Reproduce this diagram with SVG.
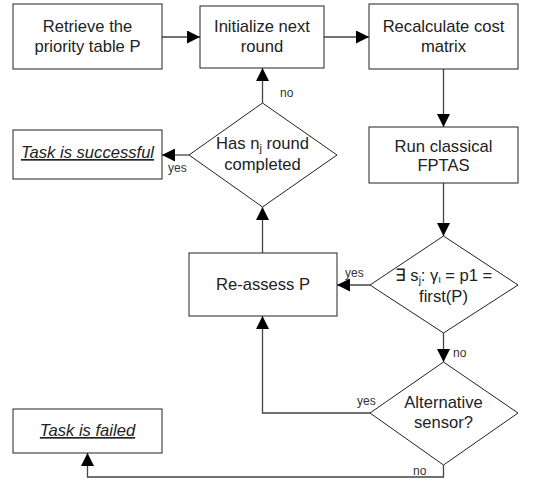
<svg xmlns="http://www.w3.org/2000/svg" width="545" height="481" viewBox="0 0 545 481">
<style>
.box{fill:#fff;stroke:#222;stroke-width:1}
.t{font-family:"Liberation Sans",Arial,sans-serif;font-size:16.6px;fill:#222;text-anchor:middle}
.it{font-style:italic;text-decoration:underline}
.lbl{font-family:"Liberation Sans",Arial,sans-serif;font-size:12px;fill:#333}
.c{fill:none;stroke:#444;stroke-width:1.3}
</style>
<defs>
<marker id="ah" markerUnits="userSpaceOnUse" markerWidth="13" markerHeight="13" refX="13" refY="6.5" orient="auto">
<path d="M0,0 L13,6.5 L0,13 z" fill="#000"/>
</marker>
</defs>
<rect width="545" height="481" fill="#fff"/>
<g id="connectors">
<line class="c" x1="162" y1="37" x2="200" y2="37" marker-end="url(#ah)"/>
<line class="c" x1="324" y1="37" x2="369" y2="37" marker-end="url(#ah)"/>
<line class="c" x1="443.5" y1="69" x2="443.5" y2="127" marker-end="url(#ah)"/>
<line class="c" x1="443.5" y1="183" x2="443.5" y2="236" marker-end="url(#ah)"/>
<line class="c" x1="370" y1="285" x2="337" y2="285" marker-end="url(#ah)"/>
<line class="c" x1="262.5" y1="253" x2="262.5" y2="207" marker-end="url(#ah)"/>
<line class="c" x1="262.5" y1="103" x2="262.5" y2="68" marker-end="url(#ah)"/>
<line class="c" x1="189" y1="155" x2="162" y2="155" marker-end="url(#ah)"/>
<line class="c" x1="443.5" y1="333" x2="443.5" y2="362" marker-end="url(#ah)"/>
<polyline class="c" points="370,413 262.5,413 262.5,316" marker-end="url(#ah)"/>
<polyline class="c" points="443.5,465 443.5,477 87.5,477 87.5,453" marker-end="url(#ah)"/>
<text class="lbl" x="280" y="97">no</text>
<text class="lbl" x="168" y="172">yes</text>
<text class="lbl" x="345" y="277">yes</text>
<text class="lbl" x="453" y="357">no</text>
<text class="lbl" x="357" y="405">yes</text>
<text class="lbl" x="413" y="475">no</text>
</g>
<g id="retrieve">
<rect class="box" x="13" y="4" width="149" height="65"/>
<text class="t" x="87.5" y="32">Retrieve the</text>
<text class="t" x="87.5" y="52">priority table P</text>
</g>
<g id="initialize">
<rect class="box" x="200" y="6" width="124" height="62"/>
<text class="t" x="262" y="32">Initialize next</text>
<text class="t" x="262" y="52">round</text>
</g>
<g id="recalculate">
<rect class="box" x="369" y="4" width="149" height="65"/>
<text class="t" x="443.5" y="32">Recalculate cost</text>
<text class="t" x="443.5" y="52">matrix</text>
</g>
<g id="success">
<rect class="box" x="13" y="130" width="149" height="49"/>
<text class="t it" x="87.5" y="158">Task is successful</text>
</g>
<g id="completed">
<polygon class="box" points="262.5,103 337,155 262.5,207 189,155"/>
<text class="t" x="262.5" y="149">Has n<tspan font-size="11" dy="3">j</tspan><tspan dy="-3"> round</tspan></text>
<text class="t" x="262.5" y="170">completed</text>
</g>
<g id="fptas">
<rect class="box" x="369" y="127" width="149" height="56"/>
<text class="t" x="443.5" y="152">Run classical</text>
<text class="t" x="443.5" y="171">FPTAS</text>
</g>
<g id="exists">
<polygon class="box" points="443.5,236 518,285 443.5,333 370,285"/>
<text class="t" x="443.5" y="281">∃ s<tspan font-size="10" dy="2.5">j</tspan><tspan dy="-2.5">: γ</tspan><tspan font-size="10" dy="2">ι</tspan><tspan dy="-2"> = p1 =</tspan></text>
<text class="t" x="443.5" y="302">first(P)</text>
</g>
<g id="reassess">
<rect class="box" x="189" y="253" width="148" height="63"/>
<text class="t" x="263" y="290">Re-assess P</text>
</g>
<g id="alternative">
<polygon class="box" points="443.5,362 518,413 443.5,465 370,413"/>
<text class="t" x="443.5" y="408">Alternative</text>
<text class="t" x="443.5" y="428">sensor?</text>
</g>
<g id="failed">
<rect class="box" x="13" y="409" width="149" height="44"/>
<text class="t it" x="87.5" y="436">Task is failed</text>
</g>
</svg>
